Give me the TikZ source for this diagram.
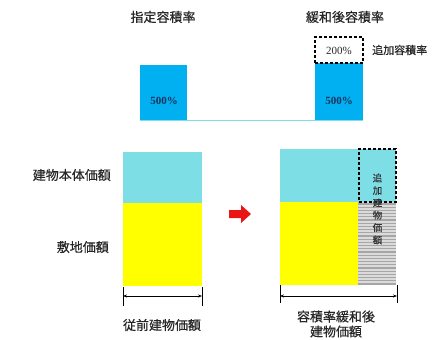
\documentclass[tikz,border=0pt]{standalone}
\usepackage{fontspec}
\newfontfamily\jp[FakeBold=0.35]{Noto Sans CJK JP}
\newfontfamily\num{Liberation Serif}
\usetikzlibrary{arrows.meta}
\definecolor{barblue}{RGB}{0,176,240}
\definecolor{lcyan}{RGB}{125,222,230}
\definecolor{yel}{RGB}{255,255,0}
\definecolor{numc}{RGB}{25,50,95}
\definecolor{arrred}{RGB}{235,20,20}
\tikzset{
 box/.style={inner sep=0pt, outer sep=0pt, anchor=north west},
 title/.style={font=\jp\fontsize{13}{14}\selectfont, text=black!85, inner sep=0pt},
 small/.style={font=\jp\fontsize{11}{12}\selectfont, text=black!85, inner sep=0pt},
 dbox/.style={draw=black, line width=1.4pt, dash pattern=on 3pt off 2pt},
 pct/.style={font=\num\bfseries\fontsize{11}{12}\selectfont, text=numc, inner sep=0pt},
 dim/.style={{Stealth[length=4pt,width=3pt]}-{Stealth[length=4pt,width=3pt]}, line width=0.6pt},
 tickline/.style={line width=0.6pt}
}
\begin{document}
\begin{tikzpicture}[x=1pt,y=-1pt]
\useasboundingbox[fill=white] (0,0) rectangle (434,340);
% ---------- top ----------
\node[title] (t1) at (163,17) {指定容積率};
\node[title] (t2) at (345,17) {緩和後容積率};
\draw[lcyan, line width=0.8pt] (140,120.5) -- (363,120.5);
\node[box, fill=barblue, minimum width=47pt, minimum height=55pt] (b1) at (140,65) {};
\node[pct] (p1) at (164,101) {500\%};
\node[box, fill=barblue, minimum width=48pt, minimum height=57pt] (b2) at (315,63) {};
\node[pct] (p2) at (339,101) {500\%};
\node[box, dbox, minimum width=48pt, minimum height=26pt] (b3) at (315,37) {};
\node[pct, font=\num\fontsize{11}{12}\selectfont, text=black!85] (p3) at (339,50.5) {200\%};
\node[small, anchor=west] (t3) at (372,50) {追加容積率};
% ---------- bottom left ----------
\node[box, fill=lcyan, minimum width=79pt, minimum height=51pt] (c1) at (123,152) {};
\node[box, fill=yel, minimum width=79pt, minimum height=83pt] (y1) at (123,203) {};
\node[title, anchor=east] (l1) at (111,175) {建物本体価額};
\node[title, anchor=east] (l2) at (109,247) {敷地価額};
\coordinate (a1) at (123,296);
\coordinate (a2) at (202,296);
\draw[tickline] (123,287) -- (123,306);
\draw[tickline] (202,287) -- (202,306);
\draw[dim] (a1) -- (a2);
\node[title] (l3) at (162,325) {従前建物価額};
% ---------- red arrow ----------
\fill[arrred] (229,210) -- (241,210) -- (241,205) -- (251,214) -- (241,223) -- (241,218) -- (229,218) -- cycle;
% ---------- bottom right ----------
\node[box, fill=lcyan, minimum width=116pt, minimum height=53pt] (c2) at (280,149) {};
\node[box, fill=yel, minimum width=78pt, minimum height=83pt] (y2) at (280,202) {};
\node[box, fill=gray!28, minimum width=38pt, minimum height=83pt] (h2) at (358,202) {};
\foreach \yy in {204,207.2,...,285} {\draw[gray!70, line width=1.1pt] (358,\yy) -- (396,\yy);}
\node[box, dbox, minimum width=37pt, minimum height=53pt] (d2) at (359,149) {};
\node[font=\jp\fontsize{9.5}{12.4}\selectfont, text=black!80, align=center, inner sep=0pt] (v2) at (377.5,209) {追\\加\\建\\物\\価\\額};
\coordinate (a3) at (280,296);
\coordinate (a4) at (397,296);
\draw[tickline] (280,285) -- (280,303);
\draw[tickline] (397,285) -- (397,303);
\draw[dim] (a3) -- (a4);
\node[title, align=center, font=\jp\fontsize{13}{15}\selectfont] (l4) at (336,324) {容積率緩和後\\建物価額};
\end{tikzpicture}
\end{document}
